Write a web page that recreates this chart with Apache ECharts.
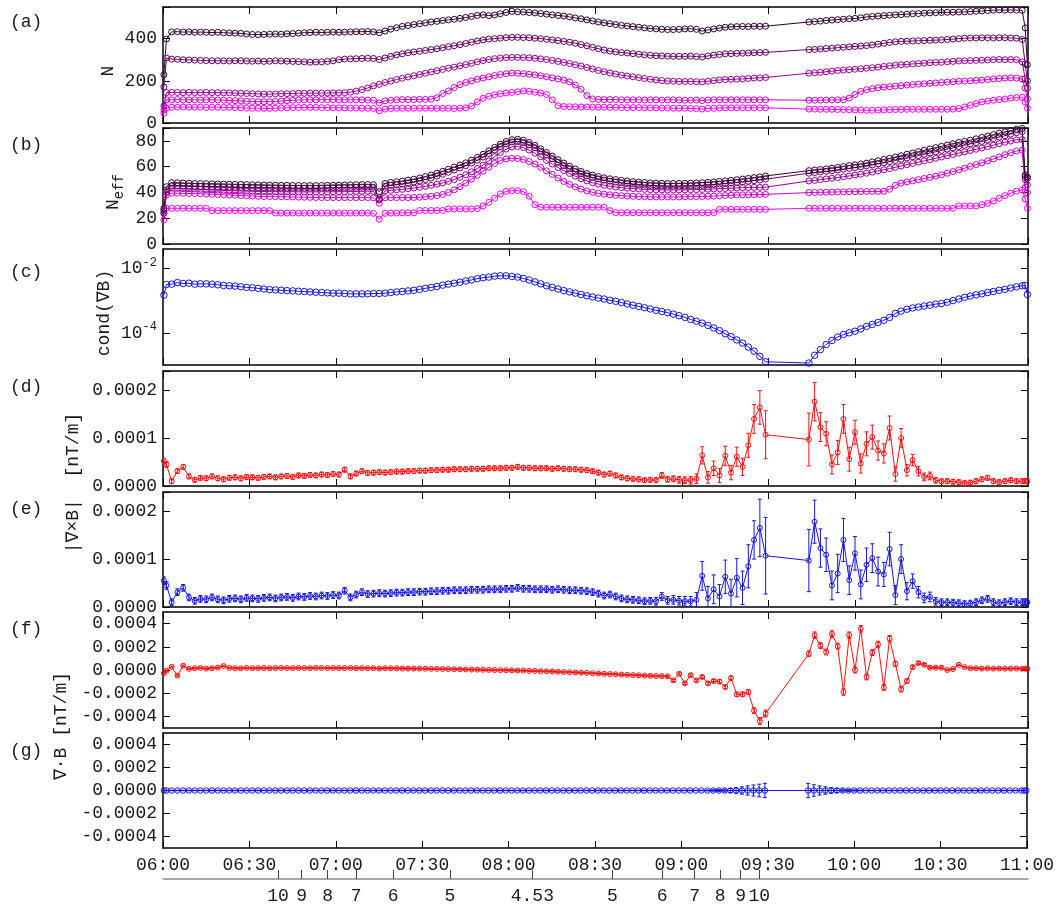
<!DOCTYPE html>
<html><head><meta charset="utf-8">
<script src="https://cdn.jsdelivr.net/npm/echarts@6/dist/echarts.min.js"></script>
<style>html,body{margin:0;padding:0;background:#fff}#c{width:1057px;height:905px}</style>
</head><body><div id="c"></div>
<script>
// ---- time samples: minutes after 06:00 ----
const times = [0.3,1.2,
3,5,7,9,11,13,15,17,19,21,
23,25,27,29,31,33,35,37,39,41,
43,45,47,49,51,53,55,57,59,61,
63,65,67,69,71,73,75,77,79,81,
83,85,87,89,91,93,95,97,99,101,
103,105,107,109,111,113,115,117,119,121,
123,125,127,129,131,133,135,137,139,141,
143,145,147,149,151,153,155,157,159,161,
163,165,167,169,171,173,175,177,179,181,
183,185,187,189,191,193,195,197,199,201,
203,205,207,209,
224,226,228,230,232,234,236,238,240,242,
244,246,248,250,252,254,256,258,260,262,
264,266,268,270,272,274,276,278,280,282,
284,286,288,290,292,294,296,298,
299,299.8];

// ---- panel (a) N ----
const nA1 = [229,398,
432,433,431,432,430,431,430,429,430,428,
427,426,425,422,420,419,420,421,422,421,
423,424,426,428,429,430,429,430,431,430,
431,432,433,433,434,432,428,436,445,452,
458,462,467,471,475,479,482,486,489,492,
496,500,505,510,513,509,512,518,524,529,
527,526,524,522,519,516,513,510,507,503,
498,494,489,484,479,475,471,467,463,460,
457,454,451,448,446,444,443,443,444,446,
447,444,436,441,446,450,454,456,457,458,
457,459,458,459,
479,481,483,486,488,490,492,494,496,499,
503,505,507,509,511,513,514,516,518,519,
521,522,523,524,525,525,526,527,528,530,
531,533,535,536,535,536,535,534,
451,276];
const nA2 = [171,308,
303,302,300,299,298,297,296,295,295,295,
294,295,295,294,293,294,292,293,295,294,
293,292,291,290,288,289,290,292,295,300,
303,304,305,306,307,306,301,308,316,323,
328,333,337,340,344,348,352,357,362,366,
371,377,383,389,394,398,400,402,405,406,
406,405,404,402,400,397,394,391,387,383,
378,372,366,359,352,346,341,337,334,332,
329,326,323,321,319,318,317,316,316,316,
317,315,313,318,322,325,328,329,330,331,
332,333,334,335,
348,349,351,353,355,357,359,361,363,365,
367,370,374,378,382,385,387,388,389,390,
391,392,393,394,396,398,400,402,403,403,
404,404,403,404,404,403,402,396,
280,200];
const nA3 = [81,144,
145,145,144,145,144,144,145,144,144,143,
143,142,141,140,139,138,137,137,138,139,
139,140,141,141,142,142,142,142,143,143,
144,146,151,158,166,176,183,192,199,206,
212,218,224,230,236,242,248,254,260,265,
271,277,283,290,296,301,305,308,310,311,
311,310,309,307,304,301,297,292,287,282,
276,270,263,256,249,243,237,232,227,223,
219,215,211,207,204,201,199,198,197,197,
197,196,195,198,201,204,206,207,208,209,
211,213,214,216,
236,238,240,243,246,249,251,253,255,257,
260,262,265,268,271,274,276,278,280,282,
284,286,287,288,290,292,294,295,296,297,
298,299,300,301,300,301,300,290,
210,165];
const nA4 = [62,110,
110,111,110,110,110,109,110,110,109,108,
107,106,105,103,102,101,101,101,102,104,
106,108,109,110,110,110,111,111,111,110,
110,110,110,110,109,108,95,105,108,110,
111,111,111,112,112,113,120,140,152,168,
182,192,200,207,213,219,225,230,234,237,
236,234,231,228,224,219,214,209,203,195,
180,160,130,114,112,111,111,111,110,110,
110,110,109,110,110,109,110,110,109,108,
108,109,106,109,110,110,110,110,110,110,
110,110,110,110,
108,108,108,109,109,110,110,118,135,150,
158,163,167,170,172,175,177,180,182,184,
186,188,190,192,194,196,198,199,200,202,
204,206,209,211,213,214,213,208,
165,115];
const nA5 = [46,70,
75,75,76,75,75,75,74,75,75,74,
74,73,72,71,70,70,70,69,70,71,
72,73,73,74,74,74,73,73,72,72,
72,71,71,70,70,69,58,66,69,70,
70,70,70,70,70,70,70,70,70,69,
70,72,80,100,117,127,134,139,142,145,
148,152,150,146,142,135,110,82,78,77,
77,76,76,75,75,75,74,74,73,73,
73,73,72,72,72,71,71,70,70,70,
69,68,66,69,70,71,72,72,72,72,
72,72,72,72,
66,66,65,65,65,64,64,63,62,61,
60,60,61,62,63,64,64,65,65,65,
65,65,65,65,65,66,68,76,84,92,
100,104,108,111,114,118,121,122,
100,70];

// ---- panel (b) N_eff ----
const nB1 = [27.7,44.5,
47.6,47.5,47.3,47.2,47.0,46.9,46.8,46.7,46.6,46.5,
46.4,46.3,46.2,46.1,46.0,45.9,45.8,45.7,45.6,45.5,
45.5,45.4,45.4,45.3,45.3,45.3,45.4,45.5,45.6,45.7,
45.8,45.9,46.0,46.1,46.2,46.0,40.6,47.0,47.8,48.3,
48.8,49.5,50.3,51.2,52.3,53.5,54.9,56.4,58.0,59.7,
61.2,63.0,65.0,67.2,69.6,72.3,75.0,77.5,79.5,80.9,
81.3,80.5,78.8,76.5,73.8,71.0,68.2,65.4,62.8,60.4,
58.2,56.3,54.7,53.4,52.3,51.4,50.6,50.0,49.4,48.9,
48.4,48.0,47.7,47.4,47.2,47.1,47.0,47.0,47.0,47.1,
47.2,47.4,47.6,47.9,48.2,48.6,49.0,49.4,49.9,50.4,
50.9,51.5,52.1,52.8,
56.9,57.4,57.8,58.3,58.8,59.4,60.1,60.8,61.4,62.1,
62.7,63.7,64.6,65.6,66.5,67.5,68.5,69.6,70.6,71.7,
72.7,73.8,74.8,75.8,76.8,77.8,78.8,79.7,80.5,81.6,
82.7,83.8,84.9,86.0,87.0,88.0,89.0,89.6,
53.6,52.0];
const nB2 = [26.0,42.0,
45.0,45.0,44.9,44.8,44.7,44.6,44.5,44.4,44.3,44.2,
44.1,44.0,43.9,43.8,43.7,43.6,43.5,43.5,43.4,43.4,
43.3,43.3,43.3,43.3,43.3,43.3,43.4,43.5,43.6,43.7,
43.8,43.9,44.0,44.1,44.2,44.0,35.0,44.8,45.5,46.0,
46.5,47.2,48.0,48.9,50.0,51.2,52.6,54.1,55.7,57.4,
59.0,60.8,62.8,65.0,67.5,70.2,73.0,75.6,77.7,79.2,
79.5,78.7,77.0,74.7,72.0,69.1,66.2,63.4,60.8,58.4,
56.3,54.5,52.9,51.6,50.5,49.6,48.8,48.1,47.5,47.0,
46.5,46.1,45.7,45.4,45.2,45.0,44.9,44.9,44.9,45.0,
45.1,45.3,45.5,45.8,46.1,46.5,46.9,47.3,47.7,48.2,
48.7,49.2,49.7,50.3,
54.9,55.4,55.9,56.4,56.9,57.5,58.1,58.7,59.3,59.9,
60.6,61.4,62.2,63.0,63.9,64.8,65.7,66.7,67.7,68.6,
69.6,70.6,71.6,72.6,73.6,74.6,75.6,76.6,77.6,78.6,
79.6,80.7,81.8,82.9,84.0,85.2,86.4,87.2,
52.0,51.0];
const nB3 = [24.0,40.0,
43.3,43.2,43.0,42.8,42.6,42.4,42.2,42.0,41.8,41.6,
41.4,41.3,41.1,41.0,40.9,40.8,40.7,40.6,40.6,40.5,
40.5,40.5,40.4,40.4,40.4,40.4,40.5,40.5,40.5,40.6,
40.6,40.7,40.8,40.9,41.0,40.8,34.2,41.2,41.6,42.0,
42.4,42.9,43.4,44.0,44.7,45.5,46.4,47.4,48.6,50.0,
51.8,53.8,56.0,58.5,61.3,64.4,67.8,71.0,73.6,75.3,
75.6,74.8,72.9,70.4,67.6,64.8,62.0,59.3,56.9,54.7,
52.6,50.6,48.9,47.5,46.5,45.6,44.8,44.2,43.7,43.3,
43.0,42.7,42.4,42.2,42.0,42.0,41.9,41.9,42.0,42.0,
42.1,42.2,42.3,42.5,42.7,42.9,43.1,43.3,43.5,43.7,
43.8,43.9,44.0,44.1,
48.9,49.4,49.9,50.5,51.0,51.6,52.2,52.8,53.5,54.2,
54.9,55.8,56.7,57.6,58.5,59.5,60.5,61.5,62.5,63.5,
64.5,65.5,66.5,67.5,68.5,69.5,70.5,71.5,72.5,73.5,
74.5,75.6,76.7,77.8,78.9,79.9,80.8,81.0,
50.0,46.0];
const nB4 = [23.8,38.0,
39.4,39.4,39.3,39.2,39.1,39.0,38.8,38.6,38.4,38.2,
38.0,37.8,37.6,37.4,37.2,37.0,36.8,36.8,36.7,36.7,
36.6,36.5,36.4,36.3,36.2,36.1,36.0,36.0,36.0,36.0,
36.0,36.0,36.0,36.0,36.0,35.8,31.6,35.9,36.0,36.0,
36.0,36.0,36.1,36.3,36.6,37.0,37.6,38.5,40.0,42.0,
44.5,47.3,50.3,53.3,56.5,59.5,62.5,64.7,66.0,66.5,
66.3,65.5,64.0,62.0,59.5,56.8,54.0,51.2,48.5,46.2,
44.3,42.6,41.2,40.1,39.3,38.7,38.2,37.8,37.5,37.2,
37.0,36.8,36.7,36.6,36.5,36.5,36.5,36.5,36.5,36.6,
36.7,36.8,36.9,37.0,37.2,37.4,37.6,37.8,38.0,38.1,
38.2,38.3,38.4,38.5,
39.9,40.0,40.1,40.2,40.3,40.4,40.5,40.6,40.6,40.7,
40.7,40.8,40.8,40.9,42.5,45.5,47.2,48.2,49.0,49.9,
50.8,51.7,52.6,53.7,54.9,56.2,57.5,58.8,60.2,61.6,
63.0,64.5,66.0,67.6,69.3,70.8,72.2,72.8,
44.0,40.0];
const nB5 = [18.6,27.7,
27.7,27.7,27.7,27.7,27.7,27.7,27.7,25.9,25.9,25.9,
25.9,25.9,25.9,25.9,25.9,25.9,25.9,25.9,24.0,24.0,
24.0,24.0,24.0,24.0,24.0,24.0,24.0,24.0,24.0,24.0,
24.0,24.0,24.0,24.0,24.0,23.8,19.2,23.8,24.0,24.0,
24.2,24.2,24.2,26.0,26.0,26.0,26.0,26.0,27.2,27.2,
27.2,27.2,27.2,27.5,29.5,32.3,35.5,38.8,40.8,41.3,
41.4,40.6,37.0,30.5,28.6,28.5,28.5,28.5,28.5,28.5,
28.5,28.5,28.5,28.5,28.5,28.5,25.9,24.3,24.3,24.3,
24.3,24.3,24.3,24.3,24.3,24.3,24.3,24.3,24.3,24.3,
24.3,24.3,24.3,24.3,24.3,26.9,26.9,26.9,26.9,26.9,
26.9,26.9,26.9,26.9,
27.7,27.7,27.7,27.7,27.7,27.7,27.7,27.7,27.7,27.7,
27.7,27.7,27.7,27.7,27.7,27.7,27.7,27.7,27.7,27.7,
27.7,27.7,27.7,27.7,27.7,27.7,29.5,29.5,29.5,29.5,
30.5,31.5,33.4,35.5,37.5,39.4,41.0,41.9,
35.0,27.7];

// ---- panel (c) cond(grad B) ----
const condB = [1.48e-3,3.16e-3,
3.24e-3,3.63e-3,3.39e-3,3.47e-3,3.24e-3,3.31e-3,3.31e-3,3.24e-3,3.09e-3,2.95e-3,
2.88e-3,2.82e-3,2.69e-3,2.57e-3,2.51e-3,2.40e-3,2.29e-3,2.19e-3,2.14e-3,2.09e-3,
2.04e-3,2.00e-3,1.95e-3,1.91e-3,1.86e-3,1.82e-3,1.78e-3,1.74e-3,1.70e-3,1.70e-3,
1.66e-3,1.62e-3,1.62e-3,1.62e-3,1.62e-3,1.66e-3,1.66e-3,1.70e-3,1.78e-3,1.86e-3,
1.91e-3,2.00e-3,2.09e-3,2.24e-3,2.40e-3,2.57e-3,2.75e-3,3.02e-3,3.24e-3,3.47e-3,
3.72e-3,4.07e-3,4.37e-3,4.79e-3,5.13e-3,5.37e-3,5.75e-3,5.89e-3,5.89e-3,5.62e-3,
5.37e-3,4.90e-3,4.37e-3,3.80e-3,3.31e-3,2.88e-3,2.57e-3,2.29e-3,2.04e-3,1.86e-3,
1.70e-3,1.55e-3,1.41e-3,1.29e-3,1.20e-3,1.12e-3,1.02e-3,9.5e-4,8.7e-4,7.9e-4,
7.2e-4,6.6e-4,6.0e-4,5.5e-4,5.0e-4,4.6e-4,4.2e-4,3.8e-4,3.4e-4,3.0e-4,
2.6e-4,2.3e-4,2.0e-4,1.7e-4,1.41e-4,1.17e-4,9.3e-5,7.6e-5,6.0e-5,4.8e-5,
3.6e-5,2.7e-5,1.86e-5,1.26e-5,
1.15e-5,2.0e-5,3.0e-5,4.3e-5,5.8e-5,7.4e-5,8.9e-5,1.0e-4,1.12e-4,1.32e-4,
1.58e-4,1.82e-4,2.1e-4,2.45e-4,3.0e-4,4.0e-4,4.7e-4,5.4e-4,5.9e-4,6.3e-4,
6.8e-4,7.2e-4,7.8e-4,8.1e-4,8.9e-4,1.0e-3,1.12e-3,1.26e-3,1.38e-3,1.51e-3,
1.62e-3,1.78e-3,1.91e-3,2.09e-3,2.24e-3,2.45e-3,2.69e-3,2.88e-3,
2.95e-3,1.55e-3];

// ---- panels (d),(e) |curl B| [nT/m] ----
const curlD = [52e-6,45e-6,
10e-6,31e-6,40e-6,20e-6,13e-6,17e-6,16e-6,20e-6,16e-6,14e-6,
17e-6,18e-6,16e-6,19e-6,18e-6,17e-6,19e-6,20e-6,18e-6,20e-6,
21e-6,19e-6,22e-6,21e-6,23e-6,22e-6,24e-6,23e-6,25e-6,24e-6,
34e-6,20e-6,26e-6,31e-6,27e-6,28e-6,29e-6,28e-6,29e-6,30e-6,
30e-6,31e-6,31e-6,32e-6,32e-6,33e-6,33e-6,34e-6,34e-6,35e-6,
35e-6,35e-6,36e-6,36e-6,36e-6,37e-6,37e-6,37e-6,38e-6,38e-6,
40e-6,38e-6,38e-6,37e-6,37e-6,37e-6,36e-6,37e-6,36e-6,35e-6,
35e-6,34e-6,33e-6,31e-6,28e-6,24e-6,26e-6,22e-6,18e-6,16e-6,
15e-6,14e-6,12e-6,13e-6,12e-6,22e-6,14e-6,15e-6,13e-6,12e-6,
12e-6,15e-6,64e-6,18e-6,37e-6,22e-6,63e-6,28e-6,61e-6,40e-6,
85e-6,140e-6,164e-6,107e-6,
97e-6,176e-6,123e-6,109e-6,45e-6,70e-6,140e-6,56e-6,112e-6,47e-6,
88e-6,102e-6,74e-6,68e-6,121e-6,25e-6,100e-6,33e-6,54e-6,31e-6,
19e-6,21e-6,12e-6,10e-6,10e-6,9e-6,8e-6,6e-6,7e-6,10e-6,
14e-6,17e-6,10e-6,8e-6,10e-6,12e-6,10e-6,10e-6,
10e-6,10e-6];
const errD = [6e-6,6e-6,
5e-6,5e-6,5e-6,5e-6,5e-6,5e-6,5e-6,5e-6,5e-6,5e-6,
5e-6,5e-6,5e-6,5e-6,5e-6,5e-6,5e-6,5e-6,5e-6,5e-6,
5e-6,5e-6,5e-6,5e-6,5e-6,5e-6,5e-6,5e-6,5e-6,5e-6,
5e-6,5e-6,5e-6,5e-6,5e-6,5e-6,5e-6,5e-6,5e-6,5e-6,
5e-6,5e-6,5e-6,5e-6,5e-6,5e-6,5e-6,5e-6,5e-6,5e-6,
5e-6,5e-6,5e-6,5e-6,5e-6,5e-6,5e-6,5e-6,5e-6,5e-6,
5e-6,5e-6,5e-6,5e-6,5e-6,5e-6,5e-6,5e-6,5e-6,5e-6,
5e-6,5e-6,5e-6,5e-6,5e-6,5e-6,5e-6,5e-6,5e-6,5e-6,
5e-6,5e-6,5e-6,5e-6,5e-6,6e-6,6e-6,6e-6,7e-6,7e-6,
8e-6,10e-6,18e-6,12e-6,15e-6,15e-6,20e-6,15e-6,20e-6,18e-6,
25e-6,30e-6,35e-6,50e-6,
55e-6,40e-6,30e-6,25e-6,20e-6,25e-6,30e-6,25e-6,25e-6,20e-6,
25e-6,25e-6,20e-6,20e-6,25e-6,15e-6,20e-6,12e-6,12e-6,10e-6,
8e-6,8e-6,6e-6,5e-6,5e-6,5e-6,5e-6,5e-6,5e-6,5e-6,
5e-6,5e-6,5e-6,5e-6,5e-6,5e-6,5e-6,5e-6,
5e-6,5e-6];
const curlE = [55e-6,45e-6,
10e-6,31e-6,40e-6,20e-6,13e-6,17e-6,16e-6,20e-6,16e-6,14e-6,
17e-6,18e-6,16e-6,19e-6,18e-6,17e-6,19e-6,20e-6,18e-6,20e-6,
21e-6,19e-6,22e-6,21e-6,23e-6,22e-6,24e-6,23e-6,25e-6,24e-6,
34e-6,20e-6,26e-6,31e-6,27e-6,28e-6,29e-6,28e-6,29e-6,30e-6,
30e-6,31e-6,31e-6,32e-6,32e-6,33e-6,33e-6,34e-6,34e-6,35e-6,
35e-6,35e-6,36e-6,36e-6,36e-6,37e-6,37e-6,37e-6,38e-6,38e-6,
40e-6,38e-6,38e-6,37e-6,37e-6,37e-6,36e-6,37e-6,36e-6,35e-6,
35e-6,34e-6,33e-6,31e-6,28e-6,24e-6,26e-6,22e-6,18e-6,16e-6,
15e-6,14e-6,12e-6,13e-6,12e-6,22e-6,14e-6,15e-6,13e-6,12e-6,
12e-6,15e-6,65e-6,18e-6,37e-6,22e-6,63e-6,28e-6,61e-6,40e-6,
85e-6,140e-6,165e-6,107e-6,
97e-6,178e-6,123e-6,109e-6,45e-6,70e-6,140e-6,56e-6,112e-6,47e-6,
88e-6,102e-6,74e-6,68e-6,121e-6,25e-6,100e-6,33e-6,54e-6,31e-6,
19e-6,21e-6,12e-6,10e-6,10e-6,9e-6,8e-6,6e-6,7e-6,10e-6,
14e-6,17e-6,10e-6,8e-6,10e-6,12e-6,10e-6,10e-6,
10e-6,10e-6];
const errE = [8e-6,8e-6,
7e-6,7e-6,7e-6,7e-6,7e-6,7e-6,7e-6,7e-6,7e-6,7e-6,
7e-6,7e-6,7e-6,7e-6,7e-6,7e-6,7e-6,7e-6,7e-6,7e-6,
7e-6,7e-6,7e-6,7e-6,7e-6,7e-6,7e-6,7e-6,7e-6,7e-6,
7e-6,7e-6,7e-6,7e-6,7e-6,7e-6,7e-6,7e-6,7e-6,7e-6,
7e-6,7e-6,7e-6,7e-6,7e-6,7e-6,7e-6,7e-6,7e-6,7e-6,
7e-6,7e-6,7e-6,7e-6,7e-6,7e-6,7e-6,7e-6,7e-6,7e-6,
7e-6,7e-6,7e-6,7e-6,7e-6,7e-6,7e-6,7e-6,7e-6,7e-6,
7e-6,7e-6,7e-6,7e-6,7e-6,7e-6,7e-6,7e-6,7e-6,7e-6,
7e-6,7e-6,7e-6,7e-6,8e-6,8e-6,8e-6,9e-6,9e-6,10e-6,
10e-6,15e-6,30e-6,25e-6,30e-6,25e-6,35e-6,30e-6,40e-6,35e-6,
45e-6,40e-6,60e-6,80e-6,
65e-6,45e-6,40e-6,35e-6,30e-6,40e-6,45e-6,30e-6,35e-6,30e-6,
35e-6,30e-6,30e-6,25e-6,35e-6,20e-6,30e-6,18e-6,15e-6,12e-6,
10e-6,10e-6,8e-6,7e-6,7e-6,7e-6,7e-6,7e-6,7e-6,7e-6,
7e-6,7e-6,7e-6,7e-6,7e-6,7e-6,7e-6,7e-6,
7e-6,7e-6];

// ---- panels (f),(g) div B [nT/m] ----
const divF = [-28e-6,-6e-6,
28e-6,-48e-6,37e-6,10e-6,15e-6,18e-6,12e-6,15e-6,20e-6,35e-6,
18e-6,15e-6,14e-6,18e-6,15e-6,16e-6,17e-6,15e-6,16e-6,18e-6,
17e-6,16e-6,18e-6,17e-6,16e-6,18e-6,17e-6,16e-6,17e-6,16e-6,
16e-6,17e-6,15e-6,16e-6,15e-6,16e-6,12e-6,15e-6,14e-6,14e-6,
13e-6,13e-6,12e-6,12e-6,11e-6,10e-6,10e-6,9e-6,8e-6,7e-6,
6e-6,5e-6,4e-6,3e-6,2e-6,1e-6,0,-1e-6,-2e-6,-3e-6,
-4e-6,-5e-6,-7e-6,-8e-6,-10e-6,-11e-6,-13e-6,-15e-6,-17e-6,-19e-6,
-21e-6,-23e-6,-25e-6,-28e-6,-30e-6,-33e-6,-35e-6,-37e-6,-40e-6,-42e-6,
-44e-6,-46e-6,-48e-6,-50e-6,-52e-6,-53e-6,-55e-6,-90e-6,-32e-6,-115e-6,
-44e-6,-90e-6,-60e-6,-115e-6,-95e-6,-100e-6,-147e-6,-70e-6,-210e-6,-210e-6,
-190e-6,-350e-6,-440e-6,-375e-6,
140e-6,300e-6,210e-6,155e-6,310e-6,205e-6,-190e-6,300e-6,0,355e-6,
-60e-6,150e-6,220e-6,-150e-6,270e-6,53e-6,-165e-6,-95e-6,25e-6,60e-6,
45e-6,20e-6,20e-6,20e-6,0,8e-6,45e-6,25e-6,15e-6,15e-6,
12e-6,14e-6,12e-6,13e-6,12e-6,12e-6,13e-6,12e-6,
12e-6,10e-6];
const errF = [6e-6,6e-6,
6e-6,6e-6,6e-6,6e-6,6e-6,6e-6,6e-6,6e-6,6e-6,6e-6,
6e-6,6e-6,6e-6,6e-6,6e-6,6e-6,6e-6,6e-6,6e-6,6e-6,
6e-6,6e-6,6e-6,6e-6,6e-6,6e-6,6e-6,6e-6,6e-6,6e-6,
6e-6,6e-6,6e-6,6e-6,6e-6,6e-6,6e-6,6e-6,6e-6,6e-6,
6e-6,6e-6,6e-6,6e-6,6e-6,6e-6,6e-6,6e-6,6e-6,6e-6,
6e-6,6e-6,6e-6,6e-6,6e-6,6e-6,6e-6,6e-6,6e-6,6e-6,
6e-6,6e-6,6e-6,6e-6,6e-6,6e-6,6e-6,6e-6,6e-6,6e-6,
6e-6,6e-6,6e-6,6e-6,6e-6,6e-6,6e-6,6e-6,6e-6,6e-6,
6e-6,6e-6,6e-6,7e-6,7e-6,8e-6,8e-6,9e-6,9e-6,10e-6,
10e-6,12e-6,12e-6,14e-6,14e-6,15e-6,15e-6,16e-6,18e-6,20e-6,
22e-6,25e-6,30e-6,30e-6,
25e-6,28e-6,25e-6,25e-6,28e-6,25e-6,28e-6,28e-6,25e-6,28e-6,
25e-6,25e-6,28e-6,25e-6,28e-6,22e-6,25e-6,20e-6,15e-6,12e-6,
10e-6,8e-6,8e-6,7e-6,6e-6,6e-6,6e-6,6e-6,6e-6,6e-6,
6e-6,6e-6,6e-6,6e-6,6e-6,6e-6,6e-6,6e-6,
6e-6,6e-6];
const divG = [0,0,
0,0,0,0,0,0,0,0,0,0,
0,0,0,0,0,0,0,0,0,0,
0,0,0,0,0,0,0,0,0,0,
0,0,0,0,0,0,0,0,0,0,
0,0,0,0,0,0,0,0,0,0,
0,0,0,0,0,0,0,0,0,0,
0,0,0,0,0,0,0,0,0,0,
0,0,0,0,0,0,0,0,0,0,
0,0,0,0,0,0,0,0,0,0,
0,0,0,0,0,0,0,0,0,0,
0,0,0,0,
0,0,0,0,0,0,0,0,0,0,
0,0,0,0,0,0,0,0,0,0,
0,0,0,0,0,0,0,0,0,0,
0,0,0,0,0,0,0,0,
0,0];
const errG = [2e-6,2e-6,
2e-6,2e-6,2e-6,2e-6,2e-6,2e-6,2e-6,2e-6,2e-6,2e-6,
2e-6,2e-6,2e-6,2e-6,2e-6,2e-6,2e-6,2e-6,2e-6,2e-6,
2e-6,2e-6,2e-6,2e-6,2e-6,2e-6,2e-6,2e-6,2e-6,2e-6,
2e-6,2e-6,2e-6,2e-6,2e-6,2e-6,2e-6,2e-6,2e-6,2e-6,
2e-6,2e-6,2e-6,2e-6,2e-6,2e-6,2e-6,2e-6,2e-6,2e-6,
2e-6,2e-6,2e-6,2e-6,2e-6,2e-6,2e-6,2e-6,2e-6,2e-6,
2e-6,2e-6,2e-6,2e-6,2e-6,2e-6,2e-6,2e-6,2e-6,2e-6,
2e-6,2e-6,2e-6,2e-6,2e-6,2e-6,2e-6,2e-6,2e-6,2e-6,
2e-6,2e-6,2e-6,2e-6,2e-6,2e-6,2e-6,2e-6,2e-6,2e-6,
2e-6,2e-6,2e-6,4e-6,6e-6,8e-6,12e-6,18e-6,25e-6,32e-6,
40e-6,48e-6,55e-6,62e-6,
62e-6,50e-6,40e-6,32e-6,25e-6,18e-6,12e-6,8e-6,5e-6,3e-6,
2e-6,2e-6,2e-6,2e-6,2e-6,2e-6,2e-6,2e-6,2e-6,2e-6,
2e-6,2e-6,2e-6,2e-6,2e-6,2e-6,2e-6,2e-6,2e-6,2e-6,
2e-6,2e-6,2e-6,2e-6,2e-6,2e-6,2e-6,2e-6,
2e-6,2e-6];

// ---- secondary axis: L-shell ticks ----
const lTimes  = [39.9, 48.1, 57.1, 67.0, 79.8, 99.5, 128.1, 155.9, 173.1, 184.4, 193.2, 200.3, 206.8];
const lLabels = ['10','9','8','7','6','5','4.53','5','6','7','8','9','10'];

// ---- tick labels ----
const yTicksFG = [-4e-4, -2e-4, 0, 2e-4, 4e-4];
const yTicksC  = [1e-4, 1e-2];

// ================= drawing =================
const FONT = '"Liberation Mono", "DejaVu Sans Mono", monospace';
const FS = 18, TXT = '#1a1a1a';
const LEFT = 163, WIDTH = 865;
const PANELS = [[7,116],[128,116],[249,116],[371,115],[492,115],[612,116],[733,115]];
const MAG = ['#330033','#660066','#990099','#cc00cc','#ff00ff'];
const BLUE = '#1414e6', RED = '#ff1010';

const grids = PANELS.map(p => ({left: LEFT, top: p[0], width: WIDTH, height: p[1]}));
grids.push({left: LEFT, top: 860, width: WIDTH, height: 21});

function hhmm(v) { const m = Math.round(360 + v); return String(Math.floor(m/60)).padStart(2,'0') + ':' + String(m%60).padStart(2,'0'); }
function f4(v) { if (Math.abs(v) < 1e-12) return '0.0000'; const k = v / 1e-4; return Math.abs(k - Math.round(k)) < 1e-6 ? v.toFixed(4) : ''; }

const axLine = {show: true, onZero: false, lineStyle: {color: '#000', width: 1.5}};
const tickSt = {show: true, inside: true, length: 7, lineStyle: {color: '#000', width: 1}};
const richLog = {a: {fontFamily: FONT, fontSize: FS, color: TXT, lineHeight: 24}, b: {fontFamily: FONT, fontSize: 12, color: TXT, lineHeight: 12, verticalAlign: 'top'}};

const yspec = [
  {type: 'value', min: 0, max: 550, interval: 200, fmt: v => (v % 200 === 0 ? String(v) : '')},
  {type: 'value', min: 0, max: 90, interval: 20, fmt: v => (v % 20 === 0 ? String(v) : '')},
  {type: 'log', min: 1e-5, max: 0.04, logBase: 10, custom: yTicksC, fmt: v => '{a|10}{b|' + Math.round(Math.log10(v)) + '}'},
  {type: 'value', min: 0, max: 2.4e-4, interval: 1e-4, fmt: f4},
  {type: 'value', min: 0, max: 2.4e-4, interval: 1e-4, fmt: f4},
  {type: 'value', min: -5e-4, max: 5e-4, custom: yTicksFG, fmt: f4},
  {type: 'value', min: -5e-4, max: 5e-4, custom: yTicksFG, fmt: f4}
];

const xAxes = [], yAxes = [];
PANELS.forEach((p, i) => {
  const last = i === 6;
  xAxes.push({gridIndex: i, type: 'value', min: 0, max: 300, interval: 30, position: 'bottom', axisLine: axLine, axisTick: tickSt, splitLine: {show: false},
    axisLabel: {show: last, margin: 8, formatter: hhmm, fontFamily: FONT, fontSize: FS, color: TXT, showMinLabel: true, showMaxLabel: true}});
  xAxes.push({gridIndex: i, type: 'value', min: 0, max: 300, interval: 30, position: 'top', axisLine: axLine, axisTick: tickSt, splitLine: {show: false}, axisLabel: {show: false}});
  const s = yspec[i];
  ['left', 'right'].forEach(pos => {
    const ax = {gridIndex: i, type: s.type, min: s.min, max: s.max, position: pos, axisLine: axLine, splitLine: {show: false}, minorTick: {show: false},
      axisTick: Object.assign({}, tickSt, s.custom ? {customValues: s.custom} : {}),
      axisLabel: pos === 'left'
        ? Object.assign({show: true, margin: 6, fontFamily: FONT, fontSize: FS, color: TXT, formatter: s.fmt, rich: richLog, showMinLabel: true, showMaxLabel: true}, s.custom ? {customValues: s.custom} : {})
        : {show: false}};
    if (s.interval) ax.interval = s.interval;
    if (s.logBase) ax.logBase = s.logBase;
    yAxes.push(ax);
  });
});
// L-shell axis
xAxes.push({gridIndex: 7, type: 'value', min: 0, max: 300, position: 'bottom',
  axisLine: {show: true, onZero: false, lineStyle: {color: '#8a8a8a', width: 1.5}},
  axisTick: {show: true, inside: true, length: 9, customValues: lTimes, lineStyle: {color: '#444', width: 1}},
  axisLabel: {show: true, customValues: lTimes, margin: 8, fontFamily: FONT, fontSize: FS, color: TXT,
    formatter: v => { let bi = 0, bd = 1e9; lTimes.forEach((t, k) => { const d = Math.abs(t - v); if (d < bd) { bd = d; bi = k; } }); return lLabels[bi]; }},
  splitLine: {show: false}});
yAxes.push({gridIndex: 7, type: 'value', min: 0, max: 1, show: false});

const pairs = v => times.map((t, k) => [t, v[k]]);
function lineS(pi, vals, col, size) {
  return {type: 'line', xAxisIndex: 2*pi, yAxisIndex: 2*pi, data: pairs(vals), symbol: 'circle', symbolSize: size, showAllSymbol: true,
    itemStyle: {color: 'rgba(0,0,0,0)', borderColor: col, borderWidth: 1}, lineStyle: {color: col, width: 1}, silent: true, z: 3, clip: true};
}
function errS(pi, vals, errs, col) {
  return {type: 'custom', xAxisIndex: 2*pi, yAxisIndex: 2*pi, clip: true, silent: true, z: 2, encode: {x: 0, y: [1, 2]},
    data: times.map((t, k) => [t, vals[k] - errs[k], vals[k] + errs[k]]),
    renderItem: (params, api) => {
      const x = api.value(0);
      const lo = api.coord([x, api.value(1)]), hi = api.coord([x, api.value(2)]);
      const st = {stroke: col, lineWidth: 1};
      return {type: 'group', children: [
        {type: 'line', shape: {x1: lo[0], y1: lo[1], x2: hi[0], y2: hi[1]}, style: st},
        {type: 'line', shape: {x1: lo[0]-2, y1: lo[1], x2: lo[0]+2, y2: lo[1]}, style: st},
        {type: 'line', shape: {x1: hi[0]-2, y1: hi[1], x2: hi[0]+2, y2: hi[1]}, style: st}]};
    }};
}

const series = [];
[nA5, nA4, nA3, nA2, nA1].forEach((v, k) => series.push(lineS(0, v, MAG[4-k], 6)));
[nB5, nB4, nB3, nB2, nB1].forEach((v, k) => series.push(lineS(1, v, MAG[4-k], 6)));
series.push(lineS(2, condB, BLUE, 6.5));
series.push(errS(3, curlD, errD, RED)); series.push(lineS(3, curlD, RED, 5));
series.push(errS(4, curlE, errE, BLUE)); series.push(lineS(4, curlE, BLUE, 5));
series.push(errS(5, divF, errF, RED)); series.push(lineS(5, divF, RED, 5));
series.push(errS(6, divG, errG, BLUE)); series.push(lineS(6, divG, BLUE, 5.5));
series.push({type: 'line', xAxisIndex: 14, yAxisIndex: 14, data: []});

const txt = (text, x, y, rot, extra) => Object.assign({type: 'text', x: x, y: y, rotation: rot || 0, silent: true,
  style: Object.assign({text: text, fontFamily: FONT, fontSize: FS, fill: TXT, align: rot ? 'center' : 'left', verticalAlign: 'middle'}, extra || {})});
const R = Math.PI / 2;
const graphic = [
  txt('(a)', 10, 22), txt('(b)', 10, 145), txt('(c)', 10, 272), txt('(d)', 10, 387),
  txt('(e)', 10, 509), txt('(f)', 10, 629), txt('(g)', 10, 751),
  txt('N', 108, 71, R),
  txt('{n|N}{s|eff}', 113, 192, R, {rich: {n: {fontFamily: FONT, fontSize: FS, fill: TXT, lineHeight: 26}, s: {fontFamily: FONT, fontSize: 14, fill: TXT, lineHeight: 12, verticalAlign: 'bottom'}}}),
  txt('cond(\u2207B)', 104, 313, R),
  txt('|\u2207\u00d7B|  [nT/m]', 73, 483, R),
  txt('\u2207\u00b7B [nT/m]', 61, 726, R)
];
// sanity check of array lengths
[nA1,nA2,nA3,nA4,nA5,nB1,nB2,nB3,nB4,nB5,condB,curlD,errD,curlE,errE,divF,errF,divG,errG].forEach((a, k) => {
  if (a.length !== times.length) graphic.push(txt('len mismatch #' + k + ': ' + a.length, 400, 20 + 14*k, 0, {fill: 'red', fontSize: 12}));
});

const chart = echarts.init(document.getElementById('c'), null, {renderer: 'canvas'});
chart.setOption({animation: false, backgroundColor: '#fff', grid: grids, xAxis: xAxes, yAxis: yAxes, series: series, graphic: graphic});
</script></body></html>
